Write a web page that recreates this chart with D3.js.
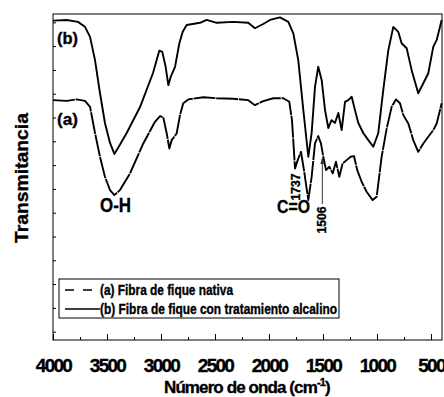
<!DOCTYPE html>
<html>
<head>
<meta charset="utf-8">
<script src="https://cdn.jsdelivr.net/npm/d3@7"></script>
<style>
  body { margin: 0; background: #fff; }
  text { font-family: "Liberation Sans", Arial, sans-serif; font-weight: bold; fill: #000; stroke: #000; stroke-width: 0.35px; }
</style>
</head>
<body>
<div id="chart"></div>
<script>
// wavenumbers (cm-1) and transmittance (a.u.)
const waveB = [4000, 3873, 3769, 3704, 3657, 3611, 3565, 3519, 3472, 3432, 3398, 3318, 3194, 3074, 3016, 2988, 2957, 2932, 2910, 2870, 2830, 2799, 2762, 2639, 2577, 2484, 2331, 2192, 2130, 2053, 1991, 1898, 1821, 1775, 1729, 1682, 1636, 1605, 1574, 1544, 1512, 1481, 1451, 1420, 1389, 1358, 1327, 1296, 1266, 1234, 1204, 1173, 1127, 1080, 1034, 988, 942, 895, 849, 803, 772, 725, 679, 618, 571, 525, 479, 447, 401];
const transB = [13.07, 13.10, 13.02, 12.81, 12.39, 11.41, 10.03, 8.77, 7.93, 7.47, 7.72, 8.35, 9.44, 10.87, 11.81, 11.76, 11.13, 10.36, 10.71, 11.13, 12.12, 12.60, 12.89, 12.98, 13.10, 12.98, 13.02, 12.98, 12.75, 12.93, 13.10, 13.21, 13.02, 12.54, 11.41, 9.31, 7.35, 8.35, 10.29, 11.13, 10.57, 9.31, 8.56, 8.89, 8.77, 9.19, 8.47, 9.66, 9.73, 9.87, 9.31, 8.77, 8.35, 8.05, 7.77, 8.35, 10.15, 11.83, 12.81, 12.60, 12.12, 11.91, 10.99, 10.02, 10.44, 10.86, 11.97, 12.26, 13.10];

const waveA = [4000, 3873, 3781, 3704, 3657, 3611, 3565, 3519, 3472, 3432, 3380, 3287, 3164, 3056, 3009, 2979, 2947, 2923, 2901, 2855, 2824, 2794, 2747, 2608, 2484, 2331, 2192, 2130, 2053, 1960, 1867, 1812, 1787, 1759, 1734, 1704, 1676, 1636, 1605, 1574, 1544, 1519, 1497, 1472, 1441, 1410, 1380, 1349, 1318, 1281, 1244, 1213, 1183, 1142, 1096, 1040, 1003, 957, 910, 864, 824, 787, 756, 710, 664, 618, 571, 525, 479, 447, 401];
const transA = [9.73, 9.70, 9.76, 9.70, 9.45, 8.35, 7.35, 6.51, 5.95, 5.74, 5.95, 6.65, 7.91, 8.82, 9.06, 9.01, 8.33, 7.70, 8.05, 8.33, 9.10, 9.60, 9.76, 9.85, 9.81, 9.79, 9.73, 9.52, 9.69, 9.81, 9.81, 9.66, 8.89, 6.86, 7.21, 7.56, 6.79, 5.53, 6.51, 7.91, 8.22, 7.91, 7.35, 6.79, 6.93, 6.65, 7.14, 6.51, 7.07, 7.21, 7.35, 7.38, 6.79, 6.30, 5.88, 5.53, 5.67, 7.35, 8.54, 9.45, 9.76, 9.60, 9.10, 8.75, 8.05, 7.56, 7.91, 8.19, 8.47, 8.75, 9.60];

const xTicks = [4000, 3500, 3000, 2500, 2000, 1500, 1000, 500];
const xMinorTicks = [3750, 3250, 2750, 2250, 1750, 1250, 750];
const yTicks = [0, 1, 2, 3, 4, 5, 6, 7, 8, 9, 10, 11, 12, 13];
const seriesNames = ["(a) Fibra de fique nativa", "(b) Fibra de fique con tratamiento alcalino"];

const width = 444, height = 397;
const margin = { left: 53, right: 442, top: 14, bottom: 340 };

const svg = d3.select("#chart").append("svg")
    .attr("width", width)
    .attr("height", height);

const x = d3.scaleLinear().domain([4000, 398]).range([margin.left, margin.right]);
const y = d3.scaleLinear().domain([-0.35, 13.35]).range([margin.bottom, margin.top]);

// frame
svg.append("rect")
    .attr("x", margin.left).attr("y", margin.top)
    .attr("width", margin.right - margin.left).attr("height", margin.bottom - margin.top)
    .attr("fill", "none").attr("stroke", "#000").attr("stroke-width", 1);

// bottom axis, ticks pointing inward
const xAxis = svg.append("g").attr("transform", "translate(0," + margin.bottom + ")")
    .call(d3.axisBottom(x).tickValues(xTicks).tickSize(-6).tickFormat(d3.format("d")));
xAxis.select(".domain").remove();
xAxis.selectAll("text")
    .attr("y", 19)
    .style("font-size", "19px")
    .style("letter-spacing", "-1.7px")
    .style("font-family", "'Liberation Sans', Arial, sans-serif")
    .style("font-weight", "bold");
svg.append("g").attr("transform", "translate(0," + margin.bottom + ")")
    .call(d3.axisBottom(x).tickValues(xMinorTicks).tickSize(-3).tickFormat(""))
    .select(".domain").remove();

// left axis ticks only
svg.append("g").attr("transform", "translate(" + margin.left + ",0)")
    .call(d3.axisLeft(y).tickValues(yTicks).tickSize(-3).tickFormat(""))
    .select(".domain").remove();

// curves
const line = d3.line()
    .x(d => x(d[0]))
    .y(d => y(d[1]))
    .curve(d3.curveLinear);

svg.append("path")
    .datum(d3.zip(waveA, transA))
    .attr("d", line)
    .attr("fill", "none").attr("stroke", "#000")
    .attr("stroke-width", 1.9)
    .attr("stroke-dasharray", "22,0.8")
    .attr("stroke-linejoin", "round");

svg.append("path")
    .datum(d3.zip(waveB, transB))
    .attr("d", line)
    .attr("fill", "none").attr("stroke", "#000")
    .attr("stroke-width", 1.9)
    .attr("stroke-linejoin", "round");

// curve labels
svg.append("text").attr("x", 57).attr("y", 44)
    .style("font-size", "17px").attr("textLength", 21).attr("lengthAdjust", "spacingAndGlyphs").text("(b)");
svg.append("text").attr("x", 57).attr("y", 125)
    .style("font-size", "17px").attr("textLength", 21).attr("lengthAdjust", "spacingAndGlyphs").text("(a)");

// band annotations
svg.append("text").attr("x", 100).attr("y", 212)
    .style("font-size", "20px").attr("textLength", 31).attr("lengthAdjust", "spacingAndGlyphs").text("O-H");
svg.append("text").attr("x", 277).attr("y", 213)
    .style("font-size", "19px").attr("textLength", 33).attr("lengthAdjust", "spacingAndGlyphs").text("C=O");

svg.append("text")
    .attr("transform", "translate(300,187) rotate(-90)")
    .attr("text-anchor", "middle")
    .style("font-size", "12px").attr("textLength", 27).attr("lengthAdjust", "spacingAndGlyphs").text("1737");

svg.append("line")
    .attr("x1", x(1506)).attr("x2", x(1506))
    .attr("y1", 159).attr("y2", 204)
    .attr("stroke", "#333").attr("stroke-width", 1);
svg.append("path")
    .attr("d", "M" + (x(1506) - 2) + ",164 L" + x(1506) + ",157 L" + (x(1506) + 2) + ",164 Z")
    .attr("fill", "#333");
svg.append("text")
    .attr("transform", "translate(" + (x(1506) + 4) + ",220) rotate(-90)")
    .attr("text-anchor", "middle")
    .style("font-size", "12px").attr("textLength", 27).attr("lengthAdjust", "spacingAndGlyphs").text("1506");

// legend
const legend = svg.append("g");
legend.append("rect")
    .attr("x", 59).attr("y", 279).attr("width", 280).attr("height", 39)
    .attr("fill", "#fff").attr("stroke", "#000").attr("stroke-width", 1);
legend.append("line")
    .attr("x1", 65).attr("x2", 95).attr("y1", 290).attr("y2", 290)
    .attr("stroke", "#000").attr("stroke-width", 1.6).attr("stroke-dasharray", "9,9");
legend.append("line")
    .attr("x1", 65).attr("x2", 100).attr("y1", 309).attr("y2", 309)
    .attr("stroke", "#000").attr("stroke-width", 1.6);
legend.append("text").attr("x", 100).attr("y", 295)
    .style("font-size", "14px").attr("textLength", 133).attr("lengthAdjust", "spacingAndGlyphs").text(seriesNames[0]);
legend.append("text").attr("x", 100).attr("y", 314)
    .style("font-size", "14px").attr("textLength", 237).attr("lengthAdjust", "spacingAndGlyphs").text(seriesNames[1]);

// axis titles
svg.append("text")
    .attr("transform", "translate(28,178) rotate(-90)")
    .attr("text-anchor", "middle")
    .style("font-size", "18px").attr("textLength", 130).attr("lengthAdjust", "spacingAndGlyphs")
    .text("Transmitancia");

const xt = svg.append("text")
    .attr("x", 164).attr("y", 393)
    .style("font-size", "17px")
    .style("letter-spacing", "-0.9px");
xt.append("tspan").text("Número de onda (cm");
xt.append("tspan").attr("dy", -7).style("font-size", "11px").text("-1");
xt.append("tspan").attr("dy", 7).text(")");
</script>
</body>
</html>
